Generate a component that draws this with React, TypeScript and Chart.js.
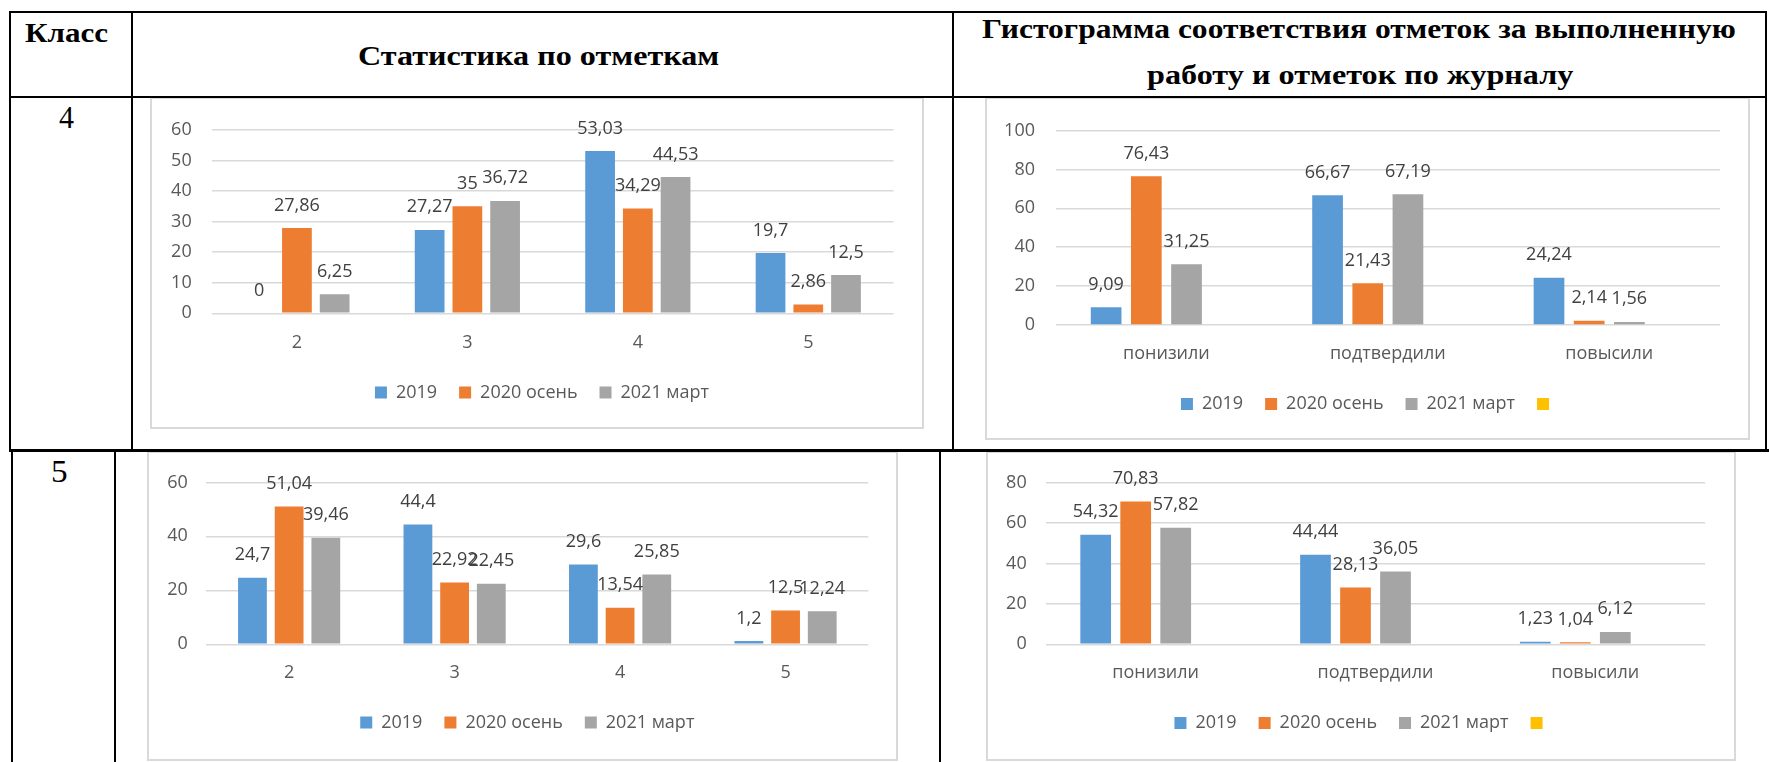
import React, { useEffect, useRef } from 'react';
import { Chart, registerables } from 'chart.js';

Chart.register(...registerables);

// ---------------- data ----------------
const seriesLabels = ['2019', '2020 осень', '2021 март'];
const seriesColors = ['#5B9BD5', '#ED7D31', '#A5A5A5'];
const extraSeriesLabel = '';
const extraSeriesColor = '#FFC000';

const markCategories = ['2', '3', '4', '5'];
const matchCategories = ['понизили', 'подтвердили', 'повысили'];

// 4 класс — статистика по отметкам
const grade4Marks2019 = [0, 27.27, 53.03, 19.7];
const grade4Marks2020 = [27.86, 35, 34.29, 2.86];
const grade4Marks2021 = [6.25, 36.72, 44.53, 12.5];
const grade4MarksTicks = [0, 10, 20, 30, 40, 50, 60];

// 4 класс — соответствие отметок
const grade4Match2019 = [9.09, 66.67, 24.24];
const grade4Match2020 = [76.43, 21.43, 2.14];
const grade4Match2021 = [31.25, 67.19, 1.56];
const grade4MatchExtra = [null, null, null];
const grade4MatchTicks = [0, 20, 40, 60, 80, 100];

// 5 класс — статистика по отметкам
const grade5Marks2019 = [24.7, 44.4, 29.6, 1.2];
const grade5Marks2020 = [51.04, 22.92, 13.54, 12.5];
const grade5Marks2021 = [39.46, 22.45, 25.85, 12.24];
const grade5MarksTicks = [0, 20, 40, 60];

// 5 класс — соответствие отметок
const grade5Match2019 = [54.32, 44.44, 1.23];
const grade5Match2020 = [70.83, 28.13, 1.04];
const grade5Match2021 = [57.82, 36.05, 6.12];
const grade5MatchExtra = [null, null, null];
const grade5MatchTicks = [0, 20, 40, 60, 80];

const headerClass = 'Класс';
const headerStats = 'Статистика по отметкам';
const headerHistLine1 = 'Гистограмма соответствия отметок за выполненную';
const headerHistLine2 = 'работу и отметок по журналу';
const gradeNames = ['4', '5'];

// ---------------- styling / layout ----------------
const CHART_FONT = '"Open Sans", "Noto Sans", sans-serif';
const SERIF = '"Liberation Serif", "Times New Roman", serif';
const F = 18; // chart font size
const LP = 22; // legend padding
const BORDER = 2;

const fmt = (v: number) => String(v).replace('.', ',');

const valueLabelPlugin = {
  id: 'valueLabels',
  afterDatasetsDraw(chart: any) {
    const ctx = chart.ctx;
    ctx.save();
    ctx.font = `${F}px ${CHART_FONT}`;
    ctx.fillStyle = '#404040';
    ctx.textAlign = 'center';
    ctx.textBaseline = 'alphabetic';
    chart.data.datasets.forEach((ds: any, i: number) => {
      const meta = chart.getDatasetMeta(i);
      meta.data.forEach((el: any, j: number) => {
        const v = ds.data[j];
        if (v === null || v === undefined) return;
        ctx.fillText(fmt(v), el.x, el.y - 17.5);
      });
    });
    ctx.restore();
  },
};

type Spec = {
  box: { left: number; top: number; width: number; height: number };
  area: { left: number; right: number; top: number; bottom: number };
  xLabelY: number;
  legendY: number;
  legendX: number;
  yLabelRight: number;
  catPct: number;
  barPct: number;
  categories: string[];
  series: { label: string; data: (number | null)[]; color: string }[];
  ticks: number[];
};

function computeLayout(s: Spec) {
  const cl = s.box.left + BORDER;
  const ct = s.box.top + BORDER;
  const W = s.box.width - 2 * BORDER;
  const H = s.box.height - 2 * BORDER;
  const aL = s.area.left - cl;
  const aR = s.area.right - cl;
  const aT = s.area.top - ct;
  const aB = s.area.bottom - ct;
  const padR = W - aR;
  const padL = 0;
  const yW = aL;
  const legendShift = s.legendX - cl - aR / 2;
  const legendTop = s.legendY - ct - LP - F / 2;
  const xH = legendTop - aB;
  const legendH = F + LP + 10;
  const padB = H - legendTop - legendH;
  const xPad = s.xLabelY - s.area.bottom - (F * 1.2) / 2;
  const yPad = s.area.left - s.yLabelRight - 1;
  return { W, H, padL, padR, padT: aT, padB, yW, xH, xPad, yPad, legendShift };
}

function buildConfig(s: Spec, L: ReturnType<typeof computeLayout>): any {
  const font = { family: CHART_FONT, size: F };
  const legendShiftPlugin = {
    id: 'legendShift',
    afterLayout(chart: any) {
      if (chart.legend) {
        chart.legend.left += L.legendShift;
        chart.legend.right += L.legendShift;
      }
    },
  };
  return {
    type: 'bar',
    data: {
      labels: s.categories,
      datasets: s.series.map((d) => ({
        label: d.label,
        data: d.data,
        backgroundColor: d.color,
        borderWidth: 0,
        categoryPercentage: s.catPct,
        barPercentage: s.barPct,
      })),
    },
    options: {
      animation: false,
      responsive: false,
      maintainAspectRatio: false,
      devicePixelRatio: 1,
      events: [],
      layout: { padding: { left: L.padL, right: L.padR, top: L.padT, bottom: L.padB } },
      plugins: {
        legend: {
          position: 'bottom',
          labels: { boxWidth: 12, boxHeight: 12, padding: LP, color: '#595959', font },
        },
        tooltip: { enabled: false },
        title: { display: false },
      },
      scales: {
        x: {
          grid: { display: false, drawTicks: false },
          border: { display: false },
          ticks: { color: '#595959', font, padding: L.xPad, maxRotation: 0, autoSkip: false },
          afterFit: (sc: any) => {
            sc.height = L.xH;
          },
        },
        y: {
          min: s.ticks[0],
          max: s.ticks[s.ticks.length - 1],
          grid: { color: '#d9d9d9', lineWidth: 1.5, drawTicks: false },
          border: { display: false },
          ticks: { stepSize: s.ticks[1] - s.ticks[0], color: '#595959', font, padding: L.yPad },
          afterFit: (sc: any) => {
            sc.width = L.yW;
          },
        },
      },
    },
    plugins: [valueLabelPlugin, legendShiftPlugin],
  };
}

function BarChartBox({ spec }: { spec: Spec }) {
  const ref = useRef<HTMLCanvasElement>(null);
  const L = computeLayout(spec);
  useEffect(() => {
    if (!ref.current) return;
    const chart = new Chart(ref.current, buildConfig(spec, L));
    return () => chart.destroy();
  }, []);
  return (
    <div
      style={{
        position: 'absolute',
        left: spec.box.left,
        top: spec.box.top,
        width: spec.box.width,
        height: spec.box.height,
        border: `${BORDER}px solid #d9d9d9`,
        boxSizing: 'border-box',
        background: '#fff',
      }}
    >
      <canvas ref={ref} width={L.W} height={L.H} style={{ display: 'block', width: L.W, height: L.H }} />
    </div>
  );
}

let measureCtx: CanvasRenderingContext2D | null = null;
function getCtx() {
  if (!measureCtx) measureCtx = document.createElement('canvas').getContext('2d');
  return measureCtx as CanvasRenderingContext2D;
}

function FitText({
  text,
  weight,
  size,
  inkLeft,
  inkRight,
  baseline,
}: {
  text: string;
  weight: number;
  size: number;
  inkLeft: number;
  inkRight: number;
  baseline: number;
}) {
  const ctx = getCtx();
  ctx.font = `${weight} ${size}px ${SERIF}`;
  const m = ctx.measureText(text);
  const inkW = m.actualBoundingBoxLeft + m.actualBoundingBoxRight || m.width;
  const sx = (inkRight - inkLeft) / inkW;
  const left = inkLeft + sx * m.actualBoundingBoxLeft;
  const A = m.fontBoundingBoxAscent || size * 0.891;
  const D = m.fontBoundingBoxDescent || size * 0.216;
  const baseOff = (size - (A + D)) / 2 + A;
  return (
    <div
      style={{
        position: 'absolute',
        left,
        top: baseline - baseOff,
        fontFamily: SERIF,
        fontWeight: weight,
        fontSize: size,
        lineHeight: `${size}px`,
        whiteSpace: 'nowrap',
        transform: `scaleX(${sx})`,
        transformOrigin: '0 0',
        color: '#000',
      }}
    >
      {text}
    </div>
  );
}

function Line({ x, y, w, h }: { x: number; y: number; w: number; h: number }) {
  return <div style={{ position: 'absolute', left: x, top: y, width: w, height: h, background: '#000' }} />;
}

const chartSpecs: Spec[] = [
  {
    box: { left: 150, top: 97, width: 774, height: 332 },
    area: { left: 211.7, right: 893.5, top: 127.3, bottom: 313.3 },
    xLabelY: 342.5,
    legendY: 392.5,
    legendX: 542,
    yLabelRight: 190.7,
    catPct: 0.664,
    barPct: 0.788,
    categories: markCategories,
    series: [
      { label: seriesLabels[0], data: grade4Marks2019, color: seriesColors[0] },
      { label: seriesLabels[1], data: grade4Marks2020, color: seriesColors[1] },
      { label: seriesLabels[2], data: grade4Marks2021, color: seriesColors[2] },
    ],
    ticks: grade4MarksTicks,
  },
  {
    box: { left: 985, top: 97, width: 765, height: 343 },
    area: { left: 1055.7, right: 1720, top: 127.3, bottom: 325 },
    xLabelY: 353.5,
    legendY: 404,
    legendX: 1369.5,
    yLabelRight: 1034,
    catPct: 0.726,
    barPct: 0.764,
    categories: matchCategories,
    series: [
      { label: seriesLabels[0], data: grade4Match2019, color: seriesColors[0] },
      { label: seriesLabels[1], data: grade4Match2020, color: seriesColors[1] },
      { label: seriesLabels[2], data: grade4Match2021, color: seriesColors[2] },
      { label: extraSeriesLabel, data: grade4MatchExtra, color: extraSeriesColor },
    ],
    ticks: grade4MatchTicks,
  },
  {
    box: { left: 147, top: 451, width: 751, height: 310 },
    area: { left: 206.4, right: 868.3, top: 480.7, bottom: 644.3 },
    xLabelY: 673,
    legendY: 722.5,
    legendX: 527.3,
    yLabelRight: 186.8,
    catPct: 0.665,
    barPct: 0.785,
    categories: markCategories,
    series: [
      { label: seriesLabels[0], data: grade5Marks2019, color: seriesColors[0] },
      { label: seriesLabels[1], data: grade5Marks2020, color: seriesColors[1] },
      { label: seriesLabels[2], data: grade5Marks2021, color: seriesColors[2] },
    ],
    ticks: grade5MarksTicks,
  },
  {
    box: { left: 986, top: 451, width: 750, height: 310 },
    area: { left: 1045.8, right: 1705.2, top: 480.7, bottom: 644.3 },
    xLabelY: 673,
    legendY: 722.9,
    legendX: 1363,
    yLabelRight: 1025.7,
    catPct: 0.728,
    barPct: 0.768,
    categories: matchCategories,
    series: [
      { label: seriesLabels[0], data: grade5Match2019, color: seriesColors[0] },
      { label: seriesLabels[1], data: grade5Match2020, color: seriesColors[1] },
      { label: seriesLabels[2], data: grade5Match2021, color: seriesColors[2] },
      { label: extraSeriesLabel, data: grade5MatchExtra, color: extraSeriesColor },
    ],
    ticks: grade5MatchTicks,
  },
];

export default function App() {
  return (
    <div
      style={{
        position: 'fixed',
        left: 0,
        top: 0,
        width: 1769,
        height: 762,
        background: '#fff',
        overflow: 'hidden',
      }}
    >
      {chartSpecs.map((s, i) => (
        <BarChartBox key={i} spec={s} />
      ))}

      {/* header texts */}
      <FitText text={headerClass} weight={700} size={27} inkLeft={25} inkRight={108} baseline={42} />
      <FitText text={headerStats} weight={700} size={28} inkLeft={359} inkRight={719} baseline={65} />
      <FitText text={headerHistLine1} weight={700} size={27} inkLeft={982} inkRight={1735} baseline={38} />
      <FitText text={headerHistLine2} weight={700} size={27} inkLeft={1147} inkRight={1574} baseline={84} />
      <FitText text={gradeNames[0]} weight={400} size={32} inkLeft={59} inkRight={74} baseline={128} />
      <FitText text={gradeNames[1]} weight={400} size={31} inkLeft={52.5} inkRight={67.5} baseline={481.7} />

      {/* table lines */}
      <Line x={9} y={11} w={1758} h={2} />
      <Line x={9} y={96} w={1758} h={2} />
      <Line x={9} y={449} w={1760} h={3} />
      <Line x={9} y={11} w={2} h={441} />
      <Line x={131} y={11} w={2} h={441} />
      <Line x={952} y={11} w={2} h={441} />
      <Line x={1765} y={11} w={2} h={441} />
      <Line x={11} y={449} w={2} h={313} />
      <Line x={114} y={449} w={2} h={313} />
      <Line x={939} y={449} w={2} h={313} />
    </div>
  );
}
